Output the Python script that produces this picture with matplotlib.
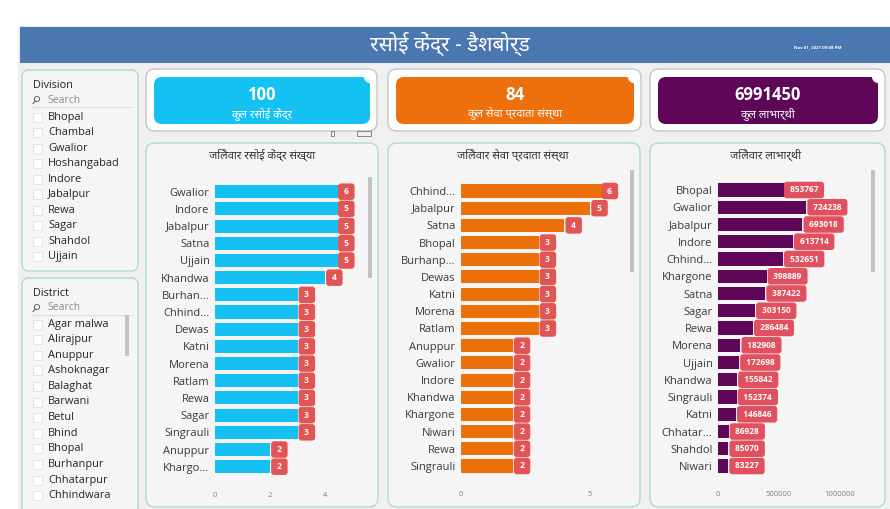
import matplotlib
matplotlib.use("Agg")
import matplotlib.pyplot as plt
from matplotlib import font_manager as fm
from matplotlib.ft2font import FT2Font
from matplotlib.patches import FancyBboxPatch, Rectangle, Circle

# look for any installed font that has Devanagari glyphs
deva = None
for f in fm.fontManager.ttflist:
    try:
        if 0x0930 in FT2Font(f.fname).get_charmap():
            deva = f.name
            break
    except Exception:
        pass
extra = [deva] if deva else []
plt.rcParams["font.family"] = ["Open Sans"] + extra + ["DejaVu Sans"]
hfam = ["Noto Sans"] + extra + ["DejaVu Sans"]  # for hindi text

# ---- data ----
title = "रसोई केंद्र - डैशबोर्ड"
date_text = "Nov 01, 2021 09:08 PM"

divisions = ["Bhopal", "Chambal", "Gwalior", "Hoshangabad", "Indore",
             "Jabalpur", "Rewa", "Sagar", "Shahdol", "Ujjain"]
districts = ["Agar malwa", "Alirajpur", "Anuppur", "Ashoknagar", "Balaghat",
             "Barwani", "Betul", "Bhind", "Bhopal", "Burhanpur",
             "Chhatarpur", "Chhindwara"]

kpi_values = ["100", "84", "6991450"]
kpi_labels = ["कुल रसोई केंद्र", "कुल सेवा प्रदाता संस्था", "कुल लाभार्थी"]

c1_title = "जिलेवार रसोई केंद्र संख्या"
c1_names = ["Gwalior", "Indore", "Jabalpur", "Satna", "Ujjain", "Khandwa",
            "Burhan...", "Chhind...", "Dewas", "Katni", "Morena", "Ratlam",
            "Rewa", "Sagar", "Singrauli", "Anuppur", "Khargo..."]
c1_vals = [6, 5, 5, 5, 5, 4, 3, 3, 3, 3, 3, 3, 3, 3, 3, 2, 2]
c1_ticks = [0, 2, 4]

c2_title = "जिलेवार सेवा प्रदाता संस्था"
c2_names = ["Chhind...", "Jabalpur", "Satna", "Bhopal", "Burhanp...", "Dewas",
            "Katni", "Morena", "Ratlam", "Anuppur", "Gwalior", "Indore",
            "Khandwa", "Khargone", "Niwari", "Rewa", "Singrauli"]
c2_vals = [6, 5, 4, 3, 3, 3, 3, 3, 3, 2, 2, 2, 2, 2, 2, 2, 2]
c2_ticks = [0, 5]

c3_title = "जिलेवार लाभार्थी"
c3_names = ["Bhopal", "Gwalior", "Jabalpur", "Indore", "Chhind...", "Khargone",
            "Satna", "Sagar", "Rewa", "Morena", "Ujjain", "Khandwa",
            "Singrauli", "Katni", "Chhatar...", "Shahdol", "Niwari"]
c3_vals = [853767, 724238, 693018, 613714, 532651, 398889, 387422, 303150,
           286484, 182908, 172698, 155842, 152374, 146846, 86928, 85070, 83227]
c3_ticks = [0, 500000, 1000000]

# ---- figure, pixel based background axes ----
W, H = 890, 509
fig = plt.figure(figsize=(W / 100, H / 100), dpi=100, facecolor="white")
bg = fig.add_axes([0, 0, 1, 1])
bg.set_xlim(0, W)
bg.set_ylim(H, 0)
bg.axis("off")


def rbox(x0, y0, x1, y1, r, fc, ec="none", lw=0.8, z=1):
    p = FancyBboxPatch((x0, y0), x1 - x0, y1 - y0,
                       boxstyle=f"round,pad=0,rounding_size={r}",
                       fc=fc, ec=ec, lw=lw, zorder=z)
    bg.add_patch(p)


def fbox(x0, y0, x1, y1):
    return [x0 / W, 1 - y1 / H, (x1 - x0) / W, (y1 - y0) / H]


# page background + header
bg.add_patch(Rectangle((18, 26), W - 18, H - 26, fc="#f0f0f0", ec="none", zorder=0))
bg.add_patch(Rectangle((20, 27), W - 20, 36, fc="#4a77af", ec="none", zorder=1))
bg.text(450, 44, title, color="white", fontsize=15, fontweight="bold",
        family=hfam, ha="center", va="center", zorder=2)
bg.text(818, 47, date_text, color="white", fontsize=3.2, fontweight="bold",
        ha="center", va="center", zorder=2)

# slicers
panel_ec = "#a9dcd6"


def slicer(y0, y1, head, items, first_y, step, scroll=None):
    rbox(22, y0, 138, y1, 7, "#f5f5f5", panel_ec, 1.0)
    bg.text(33, y0 + 15, head, fontsize=7.8, color="#252423", va="center", zorder=3)
    bg.add_patch(Circle((37, y0 + 29), 2.6, fc="none", ec="#666666", lw=0.7, zorder=3))
    bg.plot([35, 33], [y0 + 31, y0 + 33.5], color="#666666", lw=0.8, zorder=3)
    bg.text(47, y0 + 30, "Search", fontsize=7.5, color="#8a8a8a", va="center", zorder=3)
    bg.plot([31, 132], [y0 + 37, y0 + 37], color="#dddddd", lw=0.8, zorder=3)
    for i, name in enumerate(items):
        yy = first_y + i * step
        bg.add_patch(Rectangle((33, yy - 4.5), 9, 9, fc="white", ec="#e2e2e2",
                               lw=0.6, zorder=3))
        bg.text(48, yy, name, fontsize=7.9, color="#252423", va="center", zorder=3)
    if scroll:
        bg.add_patch(Rectangle((124.5, scroll[0]), 4, scroll[1] - scroll[0],
                               fc="#c4c4c4", ec="none", zorder=3))


slicer(70, 271, "Division", divisions, 117, 15.55)
slicer(278, 515, "District", districts, 324, 15.6, scroll=(315, 356))

# KPI cards
card_cols = ["#13c2f3", "#ee700c", "#5e0657"]
cards = [(146, 377), (388, 641), (650, 885)]
for (x0, x1), col, val, lab in zip(cards, card_cols, kpi_values, kpi_labels):
    rbox(x0, 69, x1, 131, 9, "white", "#c6c6c6", 1.0)
    rbox(x0 + 8, 77, x1 - 7, 124, 8, col, z=2)
    bg.add_patch(Circle((x1 - 7, 77), 6, fc="white", ec="none", zorder=3))
    bg.text((x0 + x1) / 2, 95, val, color="white", fontsize=12,
            fontweight="bold", ha="center", va="center", zorder=4)
    bg.text((x0 + x1) / 2, 114, lab, color="white", fontsize=8,
            fontweight="bold", family=hfam, ha="center", va="center", zorder=4)

# tiny icons under first card
bg.add_patch(Rectangle((331, 131), 3, 5, fc="none", ec="#777777", lw=0.6, zorder=3))
bg.add_patch(Rectangle((357, 131), 14, 5, fc="none", ec="#777777", lw=0.6, zorder=3))

# chart panels
panels = [(146, 378), (388, 640), (650, 885)]
for x0, x1 in panels:
    rbox(x0, 143, x1, 507, 9, "#f5f5f5", panel_ec, 1.0)

scrolls = [(367.5, 177, 278), (629.5, 170, 272), (870.5, 170, 272)]
for sx, sy0, sy1 in scrolls:
    bg.add_patch(Rectangle((sx, sy0), 4, sy1 - sy0, fc="#c2c2c2", ec="none", zorder=3))


def bar_chart(x0, x1, y_first, y_last, xmax, inside_from, names, vals, ticks,
              col, lab_col, lab_fs, ttl, ttl_x):
    n = len(names)
    step = (y_last - y_first) / (n - 1)
    ax = fig.add_axes(fbox(x0, y_first - step / 2, x1, y_last + step / 2))
    ax.patch.set_alpha(0)
    ys = list(range(n))
    ax.barh(ys, vals, height=0.76, color=col, zorder=2)
    ax.set_xlim(0, xmax)
    ax.set_ylim(n - 0.5, -0.5)
    ax.set_yticks(ys)
    ax.set_yticklabels(names, fontsize=8, color="#3a3a3a")
    ax.set_xticks(ticks)
    ax.set_xticklabels([str(t) for t in ticks], fontsize=5.5, color="#808080")
    ax.tick_params(axis="y", length=0, pad=4)
    ax.tick_params(axis="x", length=0, pad=12)
    for s in ax.spines.values():
        s.set_visible(False)
    for y, v in zip(ys, vals):
        if v >= inside_from:
            xy, off, ha = (min(v, xmax), y), (-1.2, 0), "right"
        else:
            xy, off, ha = (v, y), (3.5, 0), "left"
        ax.annotate(f" {v} ", xy=xy, xytext=off, textcoords="offset points",
                    ha=ha, va="center", fontsize=lab_fs, color="white",
                    fontweight="bold", zorder=4,
                    bbox=dict(boxstyle="round,pad=0.45,rounding_size=0.35",
                              fc=lab_col, ec="none"))
    bg.text(ttl_x, 155, ttl, fontsize=8, color="#333333", family=hfam,
            ha="center", va="center", zorder=3)
    return ax


bar_chart(215, 352.5, 191.7, 466.7, 5, 5, c1_names, c1_vals, c1_ticks,
          "#15c1f3", "#e25555", 6, c1_title, 262)
bar_chart(461, 616, 191, 466, 6, 6, c2_names, c2_vals, c2_ticks,
          "#ee700a", "#e25555", 6, c2_title, 513)
bar_chart(718, 845, 190, 466, 127 / 1.218e-4, 800000, c3_names, c3_vals, c3_ticks,
          "#5e0657", "#e0505e", 6, c3_title, 766)

fig.savefig("out.png", dpi=100, facecolor=fig.get_facecolor())
